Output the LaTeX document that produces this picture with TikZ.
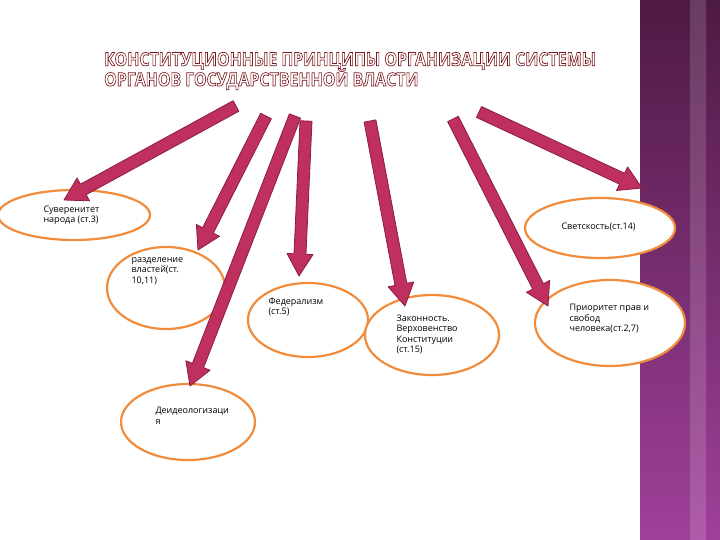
\documentclass[tikz,border=0pt]{standalone}
\usepackage{fontspec}
\usepackage{graphicx}
\setmainfont{Open Sans}
\usetikzlibrary{calc,shapes.geometric}
\definecolor{arr}{HTML}{C0305E}
\definecolor{arrd}{HTML}{8A1E40}
\definecolor{ell}{HTML}{F08C3C}
\definecolor{pTop}{HTML}{4E1A44}
\definecolor{pBot}{HTML}{A0409A}
\tikzset{
 ov/.style={ellipse,draw=ell,line width=2.2pt,fill=white},
 lbl/.style={font=\fontsize{9}{10.5}\selectfont,align=left,anchor=north west},
 barrow/.style={fill=arr,draw=arrd,line width=0.8pt,line join=round}
}
\newcommand{\blkarrow}[2]{%
 \coordinate (H) at ($(#2)!22pt!(#1)$);
 \path[barrow] ($(#1)!6pt!90:(#2)$) -- ($(H)!6pt!90:(#2)$)
  -- ($(H)!13pt!90:(#2)$) -- (#2)
  -- ($(H)!13pt!-90:(#2)$) -- ($(H)!6pt!-90:(#2)$)
  -- ($(#1)!6pt!-90:(#2)$) -- cycle;}
\begin{document}
\begin{tikzpicture}[x=1pt,y=-1pt]
\useasboundingbox (0,0) rectangle (720,540);
\fill[white] (0,0) rectangle (720,540);
\shade[top color=pTop,bottom color=pBot] (640,0) rectangle (720,540);
\shade[top color=pTop!70!white,bottom color=pBot!70!white,opacity=0.5] (690,0) rectangle (706,540);
\node[anchor=west,text=white,font=\bfseries\fontsize{18.5}{19}\selectfont,inner sep=0] (title) at (104,72)
 {\special{pdf:literal 0.478 0.102 0.125 RG 0.7 w 2 Tr}\scalebox{0.86}[1]{\begin{tabular}{@{}l@{}}КОНСТИТУЦИОННЫЕ ПРИНЦИПЫ ОРГАНИЗАЦИИ СИСТЕМЫ\\[-3pt]ОРГАНОВ ГОСУДАРСТВЕННОЙ ВЛАСТИ\end{tabular}}\special{pdf:literal 0 Tr}};
\node[ov,minimum width=152,minimum height=50] (e1) at (74,215) {};
\node[ov,minimum width=150,minimum height=60] (e2) at (600,228) {};
\node[ov,minimum width=118,minimum height=82] (e3) at (166,288) {};
\node[ov,minimum width=120,minimum height=74] (e4) at (308,320) {};
\node[ov,minimum width=134,minimum height=80] (e5) at (432,335) {};
\node[ov,minimum width=150,minimum height=86] (e6) at (610,323) {};
\node[ov,minimum width=134,minimum height=76] (e7) at (188,422) {};
\node[lbl] (t1) at (40,202) {Суверенитет\\народа (ст.3)};
\node[lbl] (t2) at (558,219) {Светскость(ст.14)};
\node[lbl] (t3) at (128,254) {разделение\\властей(ст.\\10,11)};
\node[lbl] (t4) at (265,294) {Федерализм\\(ст.5)};
\node[lbl] (t5) at (393,311) {Законность.\\Верховенство\\Конституции\\(ст.15)};
\node[lbl] (t6) at (566,301) {Приоритет прав и\\свобод\\человека(ст.2,7)};
\node[lbl] (t7) at (152,404) {Деидеологизаци\\я};
\coordinate (a1) at (236,106); \coordinate (b1) at (64,200);
\coordinate (a2) at (266,116); \coordinate (b2) at (198,250);
\coordinate (a3) at (295,116); \coordinate (b3) at (190,386);
\coordinate (a4) at (306,121); \coordinate (b4) at (299,276);
\coordinate (a5) at (370,121); \coordinate (b5) at (405,306);
\coordinate (a6) at (453,119); \coordinate (b6) at (548,306);
\coordinate (a7) at (479,112); \coordinate (b7) at (642,188);
\foreach \i in {1,...,7}{\blkarrow{a\i}{b\i}}
\end{tikzpicture}
\end{document}
